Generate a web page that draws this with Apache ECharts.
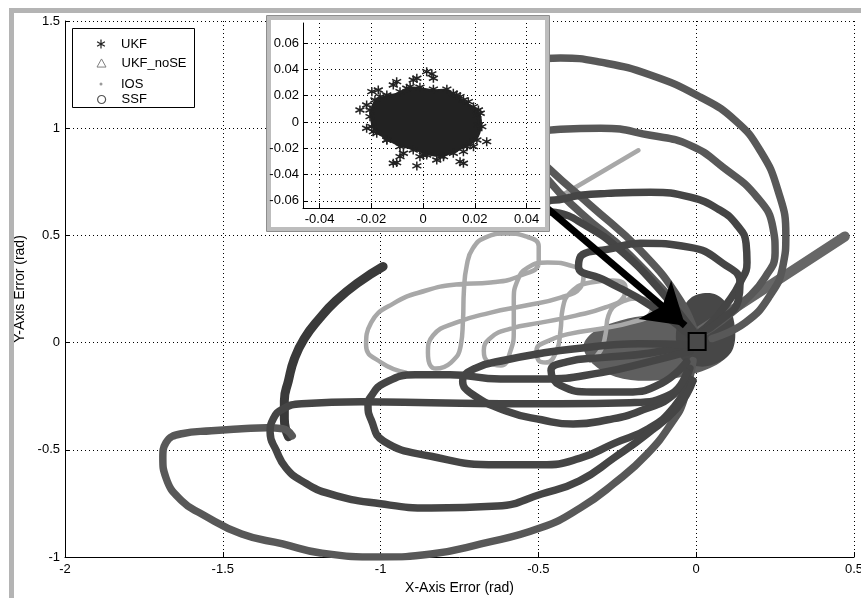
<!DOCTYPE html>
<html>
<head>
<meta charset="utf-8">
<script src="https://cdn.jsdelivr.net/npm/echarts@6/dist/echarts.min.js"></script>
<style>
html, body { margin: 0; padding: 0; background: #fff; }
#chart { width: 861px; height: 598px; }
</style>
</head>
<body>
<div id="chart"></div>
<script>
var SANS = "'Liberation Sans', Arial, Helvetica, sans-serif";
var STAR = 'path://M5,0L5,10M0.67,2.5L9.33,7.5M0.67,7.5L9.33,2.5';
var TRIANGLE = 'path://M5,0L10,9L0,9Z';

// SSF loops below the origin
var ssfLoop1 = [[-0.02,-0.01],[-0.15,-0.05],[-0.30,-0.07],[-0.41,-0.09],[-0.46,-0.13],[-0.43,-0.20],[-0.33,-0.23],[-0.22,-0.23],[-0.11,-0.19],[-0.03,-0.09]];
var ssfLoop2 = [[-0.02,-0.01],[-0.18,-0.005],[-0.39,-0.03],[-0.49,-0.05],[-0.60,-0.08],[-0.70,-0.12],[-0.74,-0.18],[-0.71,-0.24],[-0.60,-0.32],[-0.49,-0.36],[-0.39,-0.38],[-0.28,-0.36],[-0.18,-0.32],[-0.07,-0.24],[-0.02,-0.12]];
var ssfLoop3 = [[-0.02,-0.04],[-0.15,-0.09],[-0.30,-0.14],[-0.49,-0.17],[-0.62,-0.17],[-0.78,-0.15],[-0.89,-0.15],[-0.99,-0.19],[-1.03,-0.25],[-1.04,-0.29],[-1.03,-0.36],[-0.99,-0.46],[-0.84,-0.53],[-0.63,-0.57],[-0.49,-0.57],[-0.37,-0.54],[-0.26,-0.47],[-0.15,-0.40],[-0.07,-0.30],[-0.02,-0.17]];
var ssfLoop4 = [[-0.03,-0.14],[-0.08,-0.24],[-0.21,-0.28],[-0.43,-0.285],[-0.62,-0.285],[-0.84,-0.28],[-1.06,-0.276],[-1.25,-0.285],[-1.31,-0.31],[-1.34,-0.355],[-1.35,-0.42],[-1.33,-0.505],[-1.30,-0.584],[-1.25,-0.645],[-1.16,-0.706],[-1.00,-0.752],[-0.84,-0.771],[-0.63,-0.762],[-0.49,-0.706],[-0.37,-0.645],[-0.26,-0.537],[-0.155,-0.425],[-0.06,-0.304],[-0.01,-0.178]];
var ssfLoop5 = [[-0.01,-0.084],[-0.04,-0.271],[-0.073,-0.364],[-0.155,-0.519],[-0.262,-0.659],[-0.367,-0.771],[-0.493,-0.864],[-0.682,-0.939],[-0.84,-0.986],[-1.00,-1.00],[-1.19,-0.981],[-1.31,-0.939],[-1.44,-0.893],[-1.567,-0.799],[-1.63,-0.738],[-1.68,-0.631],[-1.69,-0.537],[-1.68,-0.467],[-1.63,-0.425],[-1.536,-0.411],[-1.44,-0.402],[-1.36,-0.397],[-1.31,-0.402],[-1.28,-0.435]];

// SSF loops above the origin
var ssfUp1 = [[0.00,0.03],[-0.05,0.196],[-0.177,0.43],[-0.335,0.64],[-0.461,0.804],[-0.588,0.991],[-0.651,1.154],[-0.619,1.271],[-0.524,1.318],[-0.43,1.327],[-0.303,1.308],[-0.145,1.248],[0.013,1.145],[0.123,1.037],[0.202,0.897],[0.259,0.71],[0.284,0.50],[0.275,0.36],[0.234,0.22],[0.155,0.093],[0.05,0.019]];
var ssfUp2 = [[-0.02,0.103],[-0.209,0.407],[-0.367,0.607],[-0.468,0.757],[-0.524,0.888],[-0.493,0.972],[-0.43,0.995],[-0.303,1.00],[-0.145,0.967],[-0.019,0.92],[0.085,0.818],[0.193,0.678],[0.243,0.537],[0.25,0.42],[0.218,0.304],[0.155,0.196],[0.082,0.103],[0.02,0.042]];
var ssfUp3 = [[-0.01,0.056],[-0.114,0.243],[-0.24,0.43],[-0.351,0.547],[-0.446,0.607],[-0.524,0.617],[-0.556,0.64],[-0.524,0.664],[-0.461,0.664],[-0.367,0.687],[-0.281,0.696],[-0.145,0.701],[-0.019,0.678],[0.076,0.617],[0.13,0.547],[0.158,0.463],[0.161,0.374],[0.139,0.28],[0.10,0.187],[0.054,0.103],[0.006,0.042]];
var ssfUp4 = [[-0.019,0.033],[-0.145,0.173],[-0.288,0.29],[-0.373,0.355],[-0.36,0.411],[-0.281,0.435],[-0.177,0.463],[-0.019,0.444],[0.085,0.369],[0.139,0.28],[0.133,0.196],[0.076,0.103],[0.013,0.042]];

// thick dark tail on the left
var tail = [[-1.292,-0.439],[-1.305,-0.355],[-1.305,-0.271],[-1.292,-0.178],[-1.273,-0.075],[-1.242,0.019],[-1.194,0.112],[-1.141,0.196],[-1.071,0.28],[-0.992,0.355]];

// UKF_noSE
var noseRay = [[0.013,0.056],[0.471,0.495]];
var noseBlob = [[-0.357,-0.014],[-0.319,0.056],[-0.240,0.103],[-0.145,0.126],[-0.051,0.117],[0.028,0.093],[0.092,0.047],[0.114,-0.023],[0.076,-0.093],[-0.019,-0.150],[-0.145,-0.178],[-0.256,-0.159],[-0.329,-0.098]];
var darkBlob = [[-0.019,0.206],[0.051,0.229],[0.101,0.173],[0.123,0.065],[0.114,-0.037],[0.070,-0.093],[0.013,-0.112],[-0.041,-0.084],[-0.063,-0.005],[-0.057,0.103]];

// IOS
var iosPath = [[-0.919,-0.140],[-0.998,-0.093],[-1.046,-0.014],[-1.030,0.093],[-0.960,0.182],[-0.856,0.243],[-0.761,0.271],[-0.651,0.280],[-0.556,0.313],[-0.499,0.374],[-0.499,0.449],[-0.540,0.495],[-0.603,0.509],[-0.667,0.491],[-0.708,0.439],[-0.727,0.360],[-0.736,0.243],[-0.739,0.103],[-0.746,-0.014],[-0.777,-0.093],[-0.825,-0.121],
  [-0.850,-0.047],[-0.834,0.033],[-0.761,0.093],[-0.651,0.140],[-0.540,0.173],[-0.430,0.210],[-0.367,0.257],[-0.357,0.313],[-0.389,0.355],[-0.471,0.374],[-0.534,0.350],[-0.566,0.290],[-0.578,0.196],[-0.578,0.056],[-0.588,-0.037],[-0.619,-0.107],
  [-0.657,-0.093],[-0.673,-0.037],[-0.651,0.023],[-0.588,0.065],[-0.493,0.093],[-0.382,0.126],[-0.288,0.164],[-0.231,0.210],[-0.224,0.257],[-0.265,0.290],[-0.335,0.280],[-0.398,0.234],[-0.423,0.159],[-0.430,0.056],[-0.442,-0.037],[-0.477,-0.093],
  [-0.499,-0.084],[-0.506,-0.037],[-0.468,0.009],[-0.398,0.042],[-0.303,0.065],[-0.209,0.093],[-0.145,0.136],[-0.139,0.182],[-0.177,0.206],[-0.240,0.187],[-0.278,0.126],[-0.288,0.033],[-0.303,-0.037],[-0.335,-0.084]];
var iosRay = [[-0.468,0.65],[-0.183,0.897]];

// marker square and arrow
var squarePos = [[0.003,0.005]];
var arrowFrom = [-0.509,0.673];
var arrowTo = [-0.035,0.079];

// inset: UKF estimate cloud
var insetXTicks = [-0.04,-0.02,0,0.02,0.04];
var insetYTicks = [-0.06,-0.04,-0.02,0,0.02,0.04,0.06];
var ukfCore = [[-0.0205,0.0091],[-0.0186,0.0167],[-0.0140,0.0205],[-0.0089,0.0230],[-0.0050,0.0268],[-0.0012,0.0264],[0.0040,0.0249],[0.0092,0.0249],[0.0130,0.0205],[0.0156,0.0167],[0.0195,0.0116],[0.0221,0.0066],[0.0227,-0.0036],[0.0208,-0.0137],[0.0169,-0.0188],[0.0117,-0.0238],[0.0066,-0.0264],[0.0014,-0.0251],[-0.0038,-0.0213],[-0.0089,-0.0188],[-0.0140,-0.0137],[-0.0179,-0.0086],[-0.0198,-0.0036],[-0.0205,0.0040]];
var ukfStars = [[-0.0244,0.0091],[-0.0218,0.0129],[-0.0198,0.0230],[-0.0173,0.0243],[-0.0218,-0.0048],[-0.0115,0.0281],[-0.0102,0.0306],[-0.0038,0.0319],[-0.0024,0.0332],[0.0014,0.0382],[0.0034,0.0365],[0.0040,0.0332],[-0.0063,0.0256],[0.0175,0.0154],[0.0214,0.0091],[0.0214,-0.0023],[0.0246,-0.0150],[0.0182,-0.0162],[0.0156,-0.0226],[0.0143,-0.0302],[0.0156,-0.0314],[0.0053,-0.0289],[0.0001,-0.0251],[-0.0012,-0.0264],[-0.0024,-0.0334],[-0.0115,-0.0314],[-0.0102,-0.0309],[-0.0076,-0.0238],[-0.0140,-0.0137],[-0.0192,-0.0074],[0.0079,-0.0264],[0.0208,0.0053],[0.0195,-0.0188],[-0.0166,0.0192],[0.0143,0.0192],[0.0117,0.0218],[-0.0089,-0.0264]];

var chart = echarts.init(document.getElementById('chart'), null, { renderer: 'canvas' });

function line(name, data, color, width) {
  return {
    type: 'line', name: name, xAxisIndex: 0, yAxisIndex: 0, data: data,
    smooth: 0.5, symbol: 'none', silent: true, animation: false, z: 2,
    lineStyle: { color: color, width: width, cap: 'round', join: 'round' },
    itemStyle: { color: color }
  };
}

function blob(name, pts, color, xi, z) {
  return {
    type: 'custom', name: name, coordinateSystem: 'cartesian2d',
    xAxisIndex: xi, yAxisIndex: xi, z: z, silent: true, animation: false,
    data: [pts[0]],
    itemStyle: { color: color },
    renderItem: function (params, api) {
      return {
        type: 'polygon',
        shape: { points: pts.map(function (p) { return api.coord(p); }), smooth: 0.35 },
        style: { fill: color }
      };
    }
  };
}

// one legend per row so each icon can keep its own size
function legendRow(name, icon, cy, h, style) {
  return {
    left: 101 - h / 2, top: cy - h / 2, itemWidth: h, itemHeight: h, padding: 0, itemGap: 0,
    selectedMode: false, z: 10,
    textStyle: { fontSize: 13, color: '#000', fontFamily: SANS, padding: [0, 0, 0, 15 - h / 2] },
    data: [{ name: name, icon: icon, itemStyle: style }]
  };
}

var axisText = { color: '#000', fontSize: 13, fontFamily: SANS };
var dotted = { show: true, lineStyle: { color: '#000', type: [1, 3], width: 1 } };

var series = [
  blob('UKF_noSE', noseBlob, '#5f5f5f', 0, 2),
  line('UKF_noSE', noseRay, '#676767', 10),
  blob('SSF', darkBlob, '#474747', 0, 2),
  line('IOS', iosPath, '#a8a8a8', 4.5),
  line('IOS', iosRay, '#a8a8a8', 4.5),
  line('tail', tail, '#3a3a3a', 9)
];
// outer loops are drawn lighter, like the open circle markers
[ssfLoop5, ssfUp1, ssfUp2].forEach(function (d) {
  series.push(line('SSF', d, '#585858', 7.5));
});
[ssfLoop1, ssfLoop2, ssfLoop3, ssfLoop4, ssfUp3, ssfUp4].forEach(function (d) {
  series.push(line('SSF', d, '#454545', 7.5));
});
series.push({
  type: 'scatter', xAxisIndex: 0, yAxisIndex: 0, z: 80, silent: true, animation: false,
  data: squarePos, symbol: 'rect', symbolSize: 17,
  itemStyle: { color: '#4a4a4a', borderColor: '#000', borderWidth: 2, opacity: 1 },
  markLine: {
    silent: true, animation: false, symbol: ['none', 'arrow'], symbolSize: [38, 40],
    label: { show: false },
    lineStyle: { color: '#000', width: 7, type: 'solid', opacity: 1 },
    data: [[{ coord: arrowFrom }, { coord: arrowTo }]]
  }
});
series.push(blob('UKF', ukfCore, '#222', 1, 60));
series.push({
  type: 'scatter', name: 'UKF', xAxisIndex: 1, yAxisIndex: 1, z: 60, silent: true, animation: false,
  data: ukfStars.concat(ukfCore), symbol: STAR, symbolSize: 9,
  itemStyle: { color: '#222', borderColor: '#222', borderWidth: 1.5, opacity: 1 }
});

var option = {
  backgroundColor: '#fff',
  animation: false,
  graphic: [
    { type: 'rect', z: 1, shape: { x: 9, y: 8, width: 852, height: 5 }, style: { fill: '#b4b4b4' } },
    { type: 'rect', z: 1, shape: { x: 9, y: 8, width: 5, height: 590 }, style: { fill: '#b4b4b4' } },
    { type: 'rect', z: 50, shape: { x: 266.5, y: 15.5, width: 283, height: 216 }, style: { fill: '#fff', stroke: '#8e8e8e', lineWidth: 1 } },
    { type: 'rect', z: 50, shape: { x: 269, y: 18, width: 278, height: 211 }, style: { fill: '#fff', stroke: '#bdbdbd', lineWidth: 4 } },
    { type: 'rect', z: 9, shape: { x: 72.5, y: 28.5, width: 122, height: 79 }, style: { fill: '#fff', stroke: '#000', lineWidth: 1 } }
  ],
  legend: [
    legendRow('UKF', STAR, 42, 9, { color: '#222', borderColor: '#222', borderWidth: 1.2 }),
    legendRow('UKF_noSE', TRIANGLE, 61, 9, { color: '#fff', borderColor: '#808080', borderWidth: 1 }),
    legendRow('IOS', 'circle', 79, 3, { color: '#9a9a9a', borderWidth: 0 }),
    legendRow('SSF', 'circle', 97, 8, { color: '#fff', borderColor: '#555', borderWidth: 1.2 })
  ],
  grid: [
    { left: 65, right: 7, top: 21, bottom: 41, outerBoundsMode: 'none' },
    { left: 303, top: 23, width: 237, height: 185, outerBoundsMode: 'none' }
  ],
  xAxis: [
    {
      gridIndex: 0, type: 'value', min: -2, max: 0.5, interval: 0.5,
      name: 'X-Axis Error (rad)', nameLocation: 'middle', nameGap: 24,
      nameTextStyle: { fontSize: 14, color: '#000', fontFamily: SANS },
      axisLine: { onZero: false, lineStyle: { color: '#000', width: 1 } },
      axisTick: { inside: true, length: 5, lineStyle: { color: '#000' } },
      axisLabel: Object.assign({ margin: 6 }, axisText),
      splitLine: dotted
    },
    {
      gridIndex: 1, type: 'value', min: -0.0464, max: 0.0452, z: 60,
      axisLine: { onZero: false, lineStyle: { color: '#000', width: 1 } },
      axisTick: { inside: true, length: 4, customValues: insetXTicks, lineStyle: { color: '#000' } },
      axisLabel: Object.assign({ margin: 5, customValues: insetXTicks }, axisText),
      splitLine: dotted
    }
  ],
  yAxis: [
    {
      gridIndex: 0, type: 'value', min: -1, max: 1.5, interval: 0.5,
      name: 'Y-Axis Error (rad)', nameLocation: 'middle', nameGap: 33,
      nameTextStyle: { fontSize: 14, color: '#000', fontFamily: SANS },
      axisLine: { show: true, onZero: false, lineStyle: { color: '#000', width: 1 } },
      axisTick: { show: true, inside: true, length: 5, lineStyle: { color: '#000' } },
      axisLabel: Object.assign({ margin: 5 }, axisText),
      splitLine: dotted
    },
    {
      gridIndex: 1, type: 'value', min: -0.0654, max: 0.0752, z: 60,
      axisLine: { show: true, onZero: false, lineStyle: { color: '#000', width: 1 } },
      axisTick: { show: true, inside: true, length: 4, customValues: insetYTicks, lineStyle: { color: '#000' } },
      axisLabel: Object.assign({ margin: 4, customValues: insetYTicks }, axisText),
      splitLine: dotted
    }
  ],
  series: series
};

chart.setOption(option);
</script>
</body>
</html>
